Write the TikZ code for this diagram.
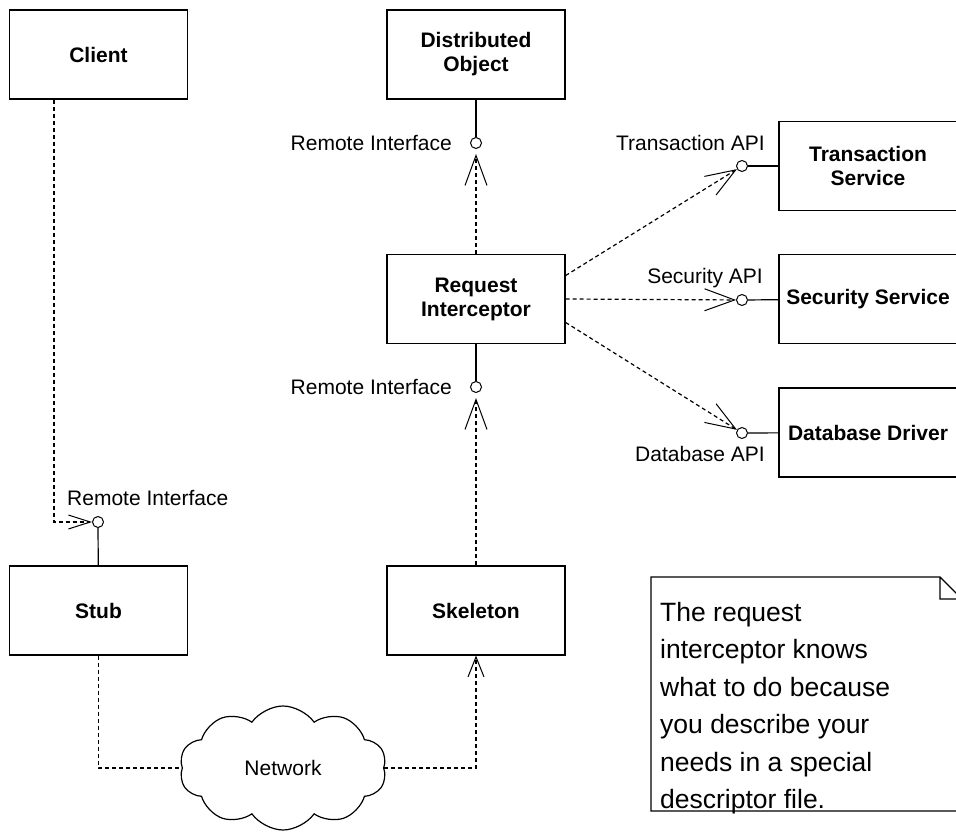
\documentclass[tikz,border=0pt]{standalone}
\usepackage{fontspec}
\setmainfont{Liberation Sans}
\usetikzlibrary{shapes.symbols,arrows.meta,calc}

\begin{document}
\begin{tikzpicture}[x=1pt,y=-1pt,
	box/.style={draw,line width=1.2pt,minimum width=178pt,minimum height=89pt,align=center,font=\fontsize{21}{24}\selectfont\bfseries},
	lolli/.style={draw,circle,line width=1pt,minimum size=11pt,inner sep=0pt,fill=white},
	iface/.style={font=\fontsize{21}{24}\selectfont,inner sep=0pt},
	dep/.style={line width=1.2pt,dash pattern=on 4pt off 3pt,-{Straight Barb[length=30pt,width=22pt,line width=1pt]}},
	wire/.style={line width=1.2pt}]
	\useasboundingbox (0,0) rectangle (956,832);
	\clip (0,0) rectangle (956,832);
	\node[box] (client) at (98.5,54.5) {Client};
	\node[box] (dobj) at (476,54.5) {Distributed\\Object};
	\node[box] (ri) at (476,299) {Request\\Interceptor};
	\node[box] (ts) at (868,166) {Transaction\\Service};
	\node[box] (ss) at (868,299) {Security Service};
	\node[box] (dd) at (868,432.5) {Database Driver};
	\node[box] (stub) at (98.5,610.5) {Stub};
	\node[box] (skel) at (476,610.5) {Skeleton};
	\node[cloud,draw,cloud puffs=10,cloud puff arc=110,aspect=1.7,minimum width=207pt,minimum height=124pt,line width=1.2pt,font=\fontsize{21}{24}\selectfont] (net) at (283,768) {Network};

	\node[lolli] (ldobj) at (476,143) {};
	\node[lolli] (lri) at (476,387) {};
	\node[lolli] (lstub) at (98,522) {};
	\node[lolli] (lts) at (742,166) {};
	\node[lolli] (lss) at (742,300) {};
	\node[lolli] (ldd) at (742,433) {};
	\node[iface,anchor=base east] (tdobj) at (452,150) {Remote Interface};
	\node[iface,anchor=base east] (tri) at (452,394) {Remote Interface};
	\node[iface,anchor=base west] (tstub) at (67,505) {Remote Interface};
	\node[iface,anchor=base east] (tts) at (765,150) {Transaction API};
	\node[iface,anchor=base east] (tss) at (763,283) {Security API};
	\node[iface,anchor=base east] (tdd) at (765,461) {Database API};

	\draw[wire] (dobj) -- (ldobj);
	\draw[wire] (ri) -- (lri);
	\draw[wire] (stub) -- (lstub);
	\draw[wire] (ts) -- (lts);
	\draw[wire] (ss) -- (lss);
	\draw[wire] (dd) -- (ldd);
	\draw[dep,shorten >=5pt] (ri) -- (ldobj);
	\draw[dep,shorten >=5pt] (skel) -- (lri);
	\draw[dep] ($(ri.north east)!0.24!(ri.south east)$) -- (lts);
	\draw[dep] (ri.east) -- (lss);
	\draw[dep] ($(ri.north east)!0.76!(ri.south east)$) -- (ldd);
	\draw[dep,-{Straight Barb[length=22pt,width=14pt,line width=1pt]}] ([xshift=-44.5pt]client.south) |- (lstub);
	\draw[dep,-] (stub) |- (net);
	\draw[dep,-{Straight Barb[length=20pt,width=16pt,line width=1pt]}] (net) -| (skel);

	\draw[line width=1.2pt] (651,577) -- (940,577) -- (962,599) -- (962,811) -- (651,811) -- cycle (940,577) -- (940,599) -- (962,599);
	\node[anchor=north west,align=left,inner sep=0pt,font=\fontsize{26.5}{37.5}\selectfont] (note) at (660,602) {The request\\interceptor knows\\what to do because\\you describe your\\needs in a special\\descriptor file.};
\end{tikzpicture}
\end{document}
